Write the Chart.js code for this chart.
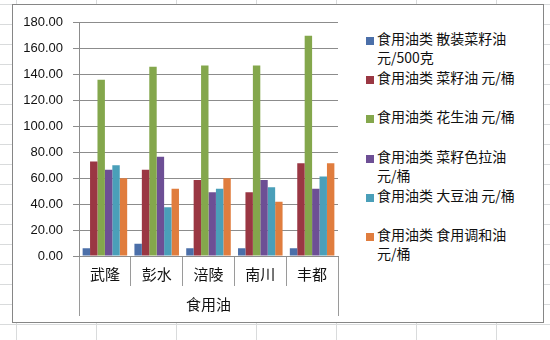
<!DOCTYPE html>
<html>
<head>
<meta charset="utf-8">
<script src="https://cdn.jsdelivr.net/npm/chart.js@4.4.1/dist/chart.umd.min.js"></script>
<style>
  html, body { margin: 0; padding: 0; }
  body {
    width: 550px; height: 340px; overflow: hidden; background-color: #fff;
    background-image: linear-gradient(to bottom, #d9dbdc 1px, transparent 1px),
                      linear-gradient(to right, #d9dbdc 1px, transparent 1px);
    background-size: 80px 20px;
    background-position: 16px 4px;
    position: relative;
  }
  #frame {
    position: absolute; left: 12px; top: 4px; width: 530px; height: 317px;
    border: 1px solid #868686; background: #fff;
  }
  #salesChart { position: absolute; left: 0; top: 0; }
  #legend { position: absolute; left: 353px; top: 24px; }
  .item { display: flex; height: 39.2px; }
  .sw { width: 8px; height: 8px; margin-top: 8px; margin-right: 3px; flex: none; }
  .txt {
    width: 148px; font: 14px "Noto Sans CJK SC", sans-serif; line-height: 19px;
    color: #111; word-break: keep-all;
  }
</style>
</head>
<body>
<div id="frame">
  <canvas id="salesChart" width="335" height="317"></canvas>
  <div id="legend"></div>
</div>
<script>
(function(){
    // categories (districts) and the group label under them
    const districts = ['武隆', '彭水', '涪陵', '南川', '丰都'];
    const groupLabel = ['食用油'];

    // one array per series
    const seriesNames = [
        '食用油类 散装菜籽油 元/500克',
        '食用油类 菜籽油 元/桶',
        '食用油类 花生油 元/桶',
        '食用油类 菜籽色拉油 元/桶',
        '食用油类 大豆油 元/桶',
        '食用油类 食用调和油 元/桶'
    ];
    const bulkRapeseed = [6, 9.5, 6, 6, 6];
    const rapeseed     = [73, 66.5, 58.7, 49.3, 71.6];
    const peanut       = [136, 146, 147, 147, 170];
    const rapeSalad    = [66.5, 76.7, 49.3, 58.7, 52];
    const soybean      = [70, 37.6, 52, 53, 61.4];
    const blended      = [60, 52, 60, 41.8, 71.6];

    const yTicks = { min: 0, max: 180, step: 20 };

    const colors = ['#4b6fa9', '#9a3743', '#84a74c', '#6d4f95', '#4a9fb9', '#e07d3e'];
    const values = [bulkRapeseed, rapeseed, peanut, rapeSalad, soybean, blended];

    const datasets = values.map((v, i) => ({
        label: seriesNames[i],
        data: v,
        backgroundColor: colors[i],
        borderWidth: 0,
        categoryPercentage: 0.86,
        barPercentage: 1.0
    }));

    const gridCol = '#8c8c8c';
    const tickFont = { family: 'Liberation Sans, Arial, sans-serif', size: 13 };
    const cjkFont = { family: 'Noto Sans CJK SC, sans-serif', size: 15 };

    const ctx = document.getElementById('salesChart').getContext('2d');
    const chart = new Chart(ctx, {
        type: 'bar',
        data: { labels: districts, datasets: datasets },
        options: {
            responsive: false,
            animation: false,
            layout: { padding: { top: 16, right: 10, left: 0, bottom: 0 } },
            plugins: { legend: { display: false }, tooltip: { enabled: false } },
            scales: {
                x: {
                    type: 'category',
                    position: 'bottom',
                    grid: { offset: true, drawOnChartArea: false, tickLength: 30, color: '#9a9a9a' },
                    border: { display: true, color: gridCol },
                    ticks: { font: cjkFont, color: '#111', padding: -21, maxRotation: 0 },
                    afterFit: s => { s.height = 30; }
                },
                x2: {
                    type: 'category',
                    position: 'bottom',
                    labels: groupLabel,
                    grid: { offset: true, drawOnChartArea: false, tickLength: 30, color: '#9a9a9a' },
                    border: { display: false },
                    ticks: { font: cjkFont, color: '#111', padding: -21, maxRotation: 0 },
                    afterFit: s => { s.height = 36; }
                },
                y: {
                    min: yTicks.min, max: yTicks.max,
                    grid: { color: gridCol, tickLength: 6 },
                    border: { display: true, color: gridCol },
                    ticks: {
                        stepSize: yTicks.step, font: tickFont, color: '#111', padding: 10,
                        callback: v => Number(v).toFixed(2)
                    },
                    afterFit: s => { s.width = 66; }
                }
            }
        }
    });

    // html legend, entries taken from the chart's datasets
    const legendEl = document.getElementById('legend');
    chart.data.datasets.forEach(ds => {
        const item = document.createElement('div');
        item.className = 'item';
        const sw = document.createElement('div');
        sw.className = 'sw';
        sw.style.background = ds.backgroundColor;
        const txt = document.createElement('div');
        txt.className = 'txt';
        txt.textContent = ds.label;
        item.appendChild(sw);
        item.appendChild(txt);
        legendEl.appendChild(item);
    });
})();
</script>
</body>
</html>
